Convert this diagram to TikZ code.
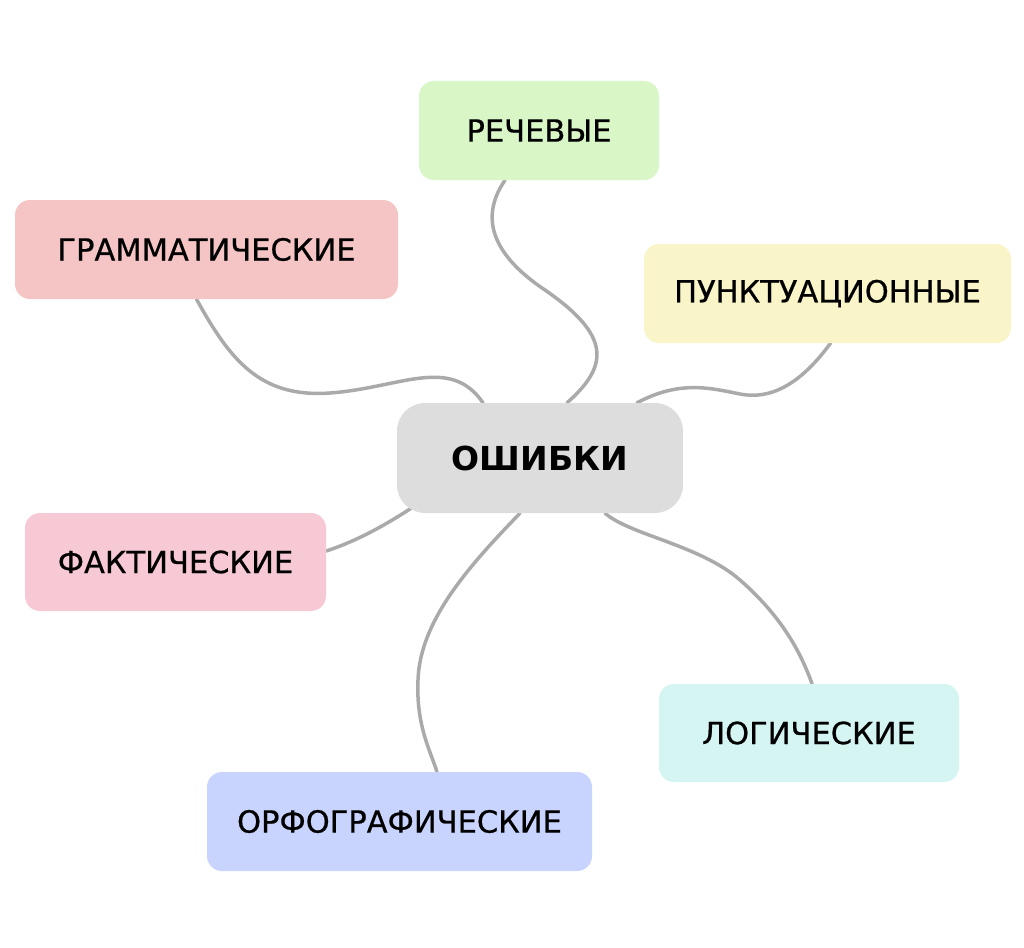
\documentclass[tikz,border=0pt]{standalone}
\usepackage{fontspec}
\setmainfont{DejaVu Sans}
\newfontfamily\kindfont{DejaVu Sans}[FakeBold=0.7]
\usetikzlibrary{backgrounds}

\definecolor{errgray}{HTML}{DDDDDD}
\definecolor{linegray}{HTML}{AAAAAA}
\definecolor{rechgreen}{HTML}{D9F6C7}
\definecolor{grampink}{HTML}{F5C5C5}
\definecolor{punktyellow}{HTML}{FAF5C9}
\definecolor{faktrose}{HTML}{F7C9D4}
\definecolor{logcyan}{HTML}{D5F5F3}
\definecolor{orfoblue}{HTML}{C8D4FD}

\begin{document}
\begin{tikzpicture}[x=1pt,y=-1pt,
		kind/.style={rounded corners=15pt,inner sep=0pt,minimum height=99pt,
			font=\kindfont\fontsize{30.5}{32}\selectfont},
		link/.style={draw=linegray,line width=3.5pt,line cap=round}]
		\useasboundingbox (0,0) rectangle (1024,947);
		% centre
		\node[fill=errgray,rounded corners=28pt,inner sep=0pt,minimum width=286pt,minimum height=110pt,
			font=\fontsize{33}{35}\selectfont\bfseries] (err) at (540,458) {ОШИБКИ};
		% kinds of errors
		\node[kind,fill=rechgreen,minimum width=240pt] (rech) at (539,130.5) {РЕЧЕВЫЕ};
		\node[kind,fill=grampink,minimum width=383pt] (gram) at (206.5,249.5) {ГРАММАТИЧЕСКИЕ};
		\node[kind,fill=punktyellow,minimum width=367pt] (punkt) at (827.5,293.5) {ПУНКТУАЦИОННЫЕ};
		\node[kind,fill=faktrose,minimum width=301pt,minimum height=98pt] (fakt) at (175.5,562) {ФАКТИЧЕСКИЕ};
		\node[kind,fill=logcyan,minimum width=300pt,minimum height=98pt] (logic) at (809,733) {ЛОГИЧЕСКИЕ};
		\node[kind,fill=orfoblue,minimum width=385pt] (orfo) at (399.5,821.5) {ОРФОГРАФИЧЕСКИЕ};
		\begin{scope}[on background layer]
			\draw[link] ([xshift=-34pt]rech.south) .. controls (483,212) and (485,250) .. (545,290)
				.. controls (610,335) and (610,365) .. ([xshift=27pt]err.north);
			\draw[link] ([xshift=-10pt]gram.south) .. controls (230,360) and (260,398) .. (330,393)
				.. controls (400,388) and (450,355) .. ([xshift=-57pt]err.north);
			\draw[link] ([xshift=3pt]punkt.south) .. controls (800,385) and (770,400) .. (740,394)
				.. controls (710,388) and (680,380) .. ([xshift=97pt]err.north);
			\draw[link] ([xshift=65pt]err.south) .. controls (630,535) and (700,545) .. (740,580)
				.. controls (780,615) and (800,650) .. ([xshift=3pt]logic.north);
			\draw[link] ([xshift=-20pt]err.south) .. controls (470,565) and (420,620) .. (418,680)
				.. controls (416,725) and (430,750) .. ([xshift=37.5pt]orfo.north);
			\draw[link] ([yshift=11pt]fakt.east) .. controls (360,540) and (390,522) .. ([xshift=16pt,yshift=6pt]err.south west);
		\end{scope}
\end{tikzpicture}
\end{document}
